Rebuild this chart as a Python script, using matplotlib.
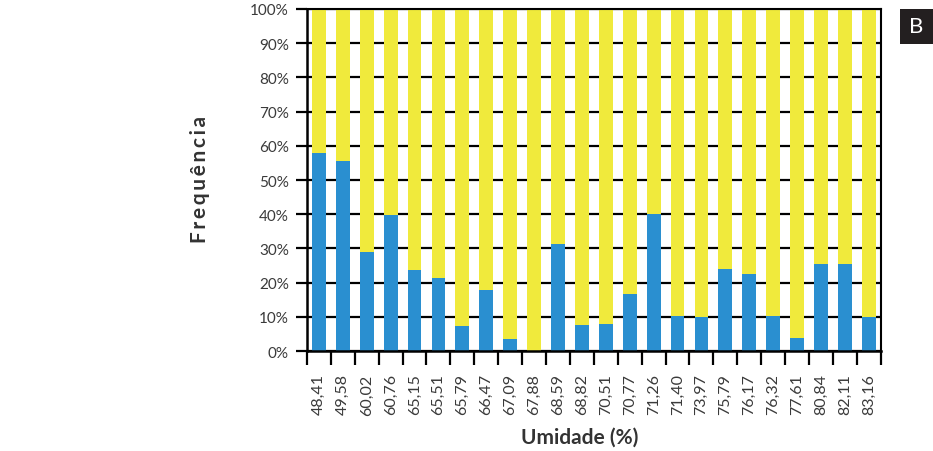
import matplotlib.pyplot as plt
import matplotlib.patches as mpatches
import numpy as np

plt.rcParams['font.family'] = ['Lato', 'DejaVu Sans']

# umidade categories and share of blue (rest is yellow, to 100%)
umidade = ["48,41", "49,58", "60,02", "60,76", "65,15", "65,51", "65,79", "66,47",
           "67,09", "67,88", "68,59", "68,82", "70,51", "70,77", "71,26", "71,40",
           "73,97", "75,79", "76,17", "76,32", "77,61", "80,84", "82,11", "83,16"]
azul = [57.8, 55.7, 29.1, 39.9, 23.7, 21.4, 7.4, 17.9, 3.4, 0.0, 31.2, 7.5,
        7.8, 16.8, 40.0, 10.4, 10.1, 24.0, 22.5, 10.2, 3.8, 25.5, 25.5, 9.9]
amarelo = [100 - v for v in azul]

x = np.arange(len(umidade))

fig = plt.figure(figsize=(9.33, 4.52), dpi=100)
ax = fig.add_axes([0.329, 0.221, 0.615, 0.757])

ax.set_axisbelow(True)
ax.yaxis.grid(True, color="black", linewidth=1.6)
ax.bar(x, azul, width=0.58, color="#2a8fd0", zorder=2)
ax.bar(x, amarelo, width=0.58, bottom=azul, color="#f0ea3c", zorder=2)

ax.set_xlim(-0.5, len(umidade) - 0.5)
ax.set_ylim(0, 100)
ax.set_yticks(np.arange(0, 101, 10))
ax.set_yticklabels([f"{v}%" for v in range(0, 101, 10)], fontsize=11, color="#3a3a3a")
ax.set_xticks(x)
ax.set_xticklabels(umidade, rotation=90, fontsize=11.5, color="#3a3a3a")
ax.tick_params(axis="x", which="major", length=0, pad=16)
ax.set_xticks(np.arange(-0.5, len(umidade)), minor=True)
ax.tick_params(axis="x", which="minor", length=10, width=1.6, color="black", direction="out")
ax.tick_params(axis="y", length=8, width=1.6, color="black", direction="out", pad=5)

for s in ax.spines.values():
    s.set_color("black")
ax.spines["left"].set_linewidth(1.8)
ax.spines["bottom"].set_linewidth(1.8)
ax.spines["top"].set_linewidth(1.5)
ax.spines["right"].set_linewidth(1.5)

fig.text(0.6217, 0.031, "Umidade (%)", fontsize=15, fontweight="bold", color="#333333",
         ha="center", va="center")
fig.text(0.2144, 0.602, "\u2009".join("Frequência"), fontsize=15, fontweight="bold",
         color="#333333", ha="center", va="center", rotation=90)

fig.patches.append(mpatches.Rectangle((0.9646, 0.9004), 0.0354, 0.0774, transform=fig.transFigure,
                                      facecolor="#231f20", edgecolor="none"))
fig.text(0.9823, 0.9392, "B", fontsize=16, color="white", ha="center", va="center")

fig.savefig("out.png", dpi=100)
